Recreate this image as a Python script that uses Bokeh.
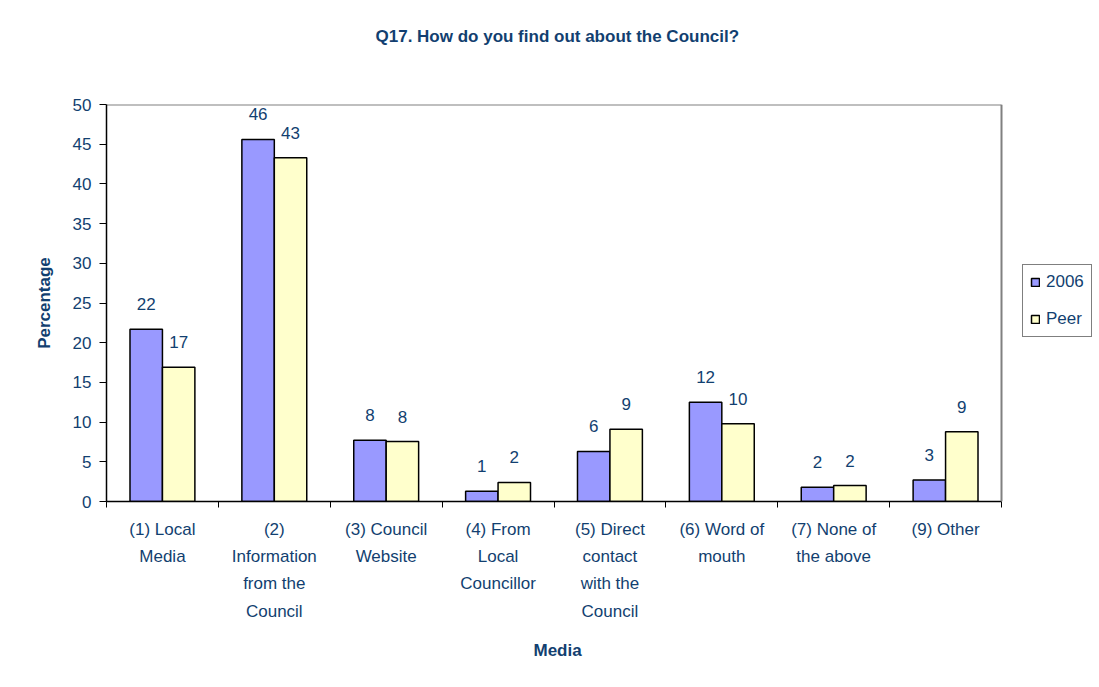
from bokeh.plotting import figure
from bokeh.models import (ColumnDataSource, FixedTicker, Range1d, Legend, LegendItem, Title, Span)
from bokeh.core.properties import value
from bokeh.embed import file_html
from bokeh.resources import INLINE

# ---- data ----
categories = ["(1) Local\nMedia", "(2)\nInformation\nfrom the\nCouncil", "(3) Council\nWebsite",
              "(4) From\nLocal\nCouncillor", "(5) Direct\ncontact\nwith the\nCouncil",
              "(6) Word of\nmouth", "(7) None of\nthe above", "(9) Other"]
values_2006 = [21.7, 45.6, 7.7, 1.3, 6.3, 12.5, 1.8, 2.7]
values_peer = [16.9, 43.3, 7.55, 2.4, 9.1, 9.8, 2.0, 8.8]
series_names = ["2006", "Peer"]
y_ticks = [0, 5, 10, 15, 20, 25, 30, 35, 40, 45, 50]
y_max = 50

TXT = "#123f70"
FONT = "Liberation Sans"
FS = "17px"

W, H = 1099, 687
FRAME_L, FRAME_R, FRAME_T, FRAME_B = 106, 1001, 104, 501   # plot-area edges in px

n = len(categories)
centers = [i + 0.5 for i in range(n)]
bounds = list(range(n + 1))
off = 0.145
bw = 0.29
# frame extends to the right canvas edge so the legend can sit beside the plot area
x_max = n * (W - FRAME_L) / (FRAME_R - FRAME_L)

src_a = ColumnDataSource(dict(x=[c - off for c in centers], top=values_2006,
                              lab=[str(int(round(v))) for v in values_2006]))
src_b = ColumnDataSource(dict(x=[c + off for c in centers], top=values_peer,
                              lab=[str(int(round(v))) for v in values_peer]))

p = figure(width=W, height=H, output_backend="svg", toolbar_location=None,
           x_range=Range1d(0, x_max), y_range=Range1d(0, y_max),
           min_border_left=FRAME_L, min_border_right=0, min_border_bottom=H - FRAME_B,
           min_border_top=FRAME_T)
p.background_fill_color = "white"
p.border_fill_color = "white"
p.outline_line_color = None
p.xgrid.visible = False
p.ygrid.visible = False

# plot-area border (top and right, grey)
p.segment(x0=[0], y0=[y_max], x1=[n], y1=[y_max], line_color="#808080", line_width=2)
p.add_layout(Span(location=n, dimension="height", line_color="#808080", line_width=2))

r_a = p.vbar(x="x", top="top", width=bw, source=src_a, fill_color="#9999FF", line_color="black", line_width=1.5)
r_b = p.vbar(x="x", top="top", width=bw, source=src_b, fill_color="#FFFFCC", line_color="black", line_width=1.5)

for s in (src_a, src_b):
    p.text(x="x", y="top", text="lab", source=s, text_align="center", text_baseline="alphabetic",
           y_offset=-25, text_color=TXT, text_font_size=FS, text_font=value(FONT))

# real title (outermost) + spacer title nearest the frame
p.title.text = "Q17. How do you find out about the Council?"
p.title.align = "left"
p.title.offset = 269
p.title.text_font = FONT
p.title.text_font_size = FS
p.title.text_font_style = "bold"
p.title.text_color = TXT
p.title.standoff = 0
spacer = Title(text=" ", text_font_size=FS, standoff=38)
p.add_layout(spacer, "above")

# y axis
ya = p.yaxis[0]
ya.ticker = FixedTicker(ticks=y_ticks)
ya.axis_label = "Percentage"
ya.axis_label_text_font = FONT
ya.axis_label_text_font_size = FS
ya.axis_label_text_font_style = "bold"
ya.axis_label_text_color = TXT
ya.axis_label_standoff = 16
ya.major_label_text_font = FONT
ya.major_label_text_font_size = FS
ya.major_label_text_color = TXT
ya.major_label_standoff = 8
ya.major_tick_out = 7
ya.major_tick_in = 0
ya.minor_tick_line_color = None
ya.axis_line_color = "black"
ya.axis_line_width = 1.5
ya.major_tick_line_color = "black"

# x axis
xa = p.xaxis[0]
xa.bounds = (0, n)
xa.ticker = FixedTicker(ticks=centers, minor_ticks=bounds)
xa.major_label_overrides = {c: lab for c, lab in zip(centers, categories)}
xa.major_tick_out = 0
xa.major_tick_in = 0
xa.minor_tick_out = 6
xa.minor_tick_in = 0
xa.minor_tick_line_color = "black"
xa.axis_line_color = "black"
xa.axis_line_width = 1.5
xa.major_label_text_font = FONT
xa.major_label_text_font_size = FS
xa.major_label_text_color = TXT
xa.major_label_text_line_height = 1.44
xa.major_label_standoff = 12

# x-axis title, under the middle of the visible plot area
xlab = Title(text="Media", align="left", offset=427, text_font=FONT, text_font_size=FS,
             text_font_style="bold", text_color=TXT, standoff=30)
p.add_layout(xlab, "below")

legend = Legend(items=[LegendItem(label=series_names[0], renderers=[r_a]),
                       LegendItem(label=series_names[1], renderers=[r_b])],
                location=(1022 - FRAME_L, FRAME_B - 337), orientation="vertical",
                label_text_font=FONT, label_text_font_size=FS, label_text_color=TXT,
                glyph_width=10, glyph_height=10, label_standoff=6, spacing=17,
                label_height=20, padding=7, margin=0, border_line_color="black", border_line_width=1,
                background_fill_color="white", background_fill_alpha=1.0)
p.add_layout(legend, "center")

open("out.html", "w").write(file_html(p, INLINE))
